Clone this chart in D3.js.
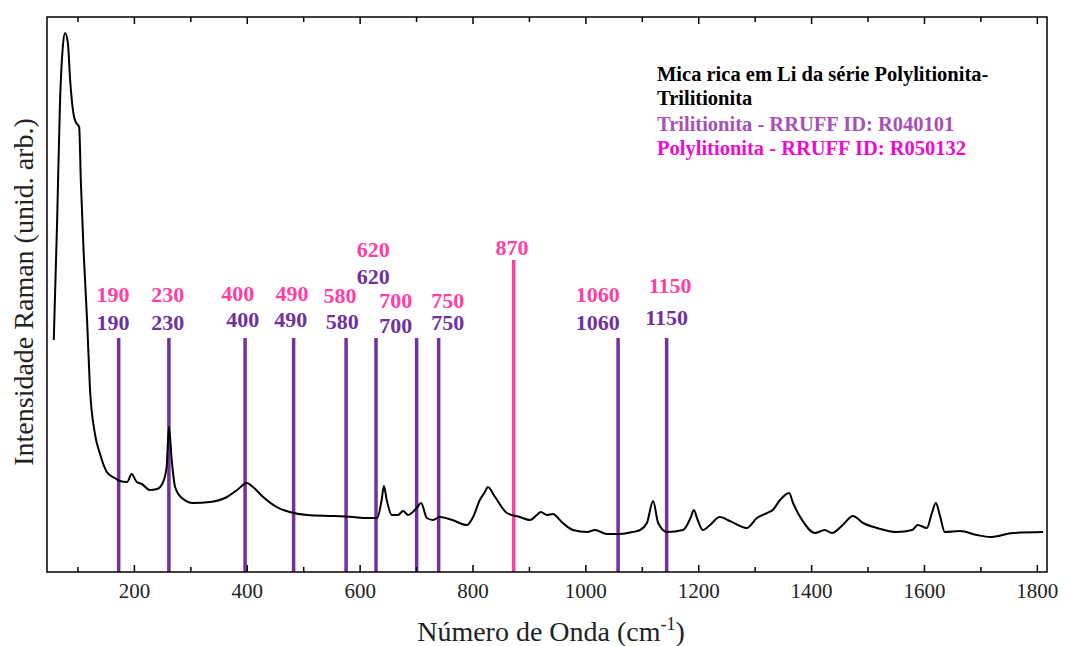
<!DOCTYPE html>
<html>
<head>
<meta charset="utf-8">
<script src="https://cdn.jsdelivr.net/npm/d3@7"></script>
<style>
  body { margin: 0; background: #fff; }
  svg text { font-family: "Liberation Serif", "Times New Roman", serif; }
</style>
</head>
<body>
<svg id="chart" width="1069" height="646"></svg>
<script>
// spectrum, wavenumber (cm-1) and intensity (arb. units)
var waveNum = [58,64,69,74,78,83,87,94,97,103,106,111,117,122,131,140,147,152,166,175,188,196,205,214,228,241,251,258,262,267,273,285,305,335,365,383,400,411,429,453,476,507,553,588,613,631,639,643,648,657,668,677,686,701,709,719,730,742,764,790,801,813,822,827,840,861,884,902,914,921,932,942,960,978,1003,1017,1038,1061,1084,1097,1109,1120,1129,1145,1173,1187,1192,1199,1208,1221,1238,1256,1274,1286,1304,1322,1332,1345,1361,1368,1384,1407,1424,1437,1456,1474,1492,1517,1552,1579,1589,1605,1614,1621,1628,1637,1664,1694,1717,1758,1811];
var intensity = [232,352,469,525,539,529,492,455,450,445,390,319,252,185,138,118,106,100,94,91,90,98,90,88,82,83,89,105,145,112,85,74,69,70,75,82,89,85,75,65,60,57,56,55,54,54,72,86,72,57,57,61,57,64,69,54,52,55,52,47,55,72,80,85,75,59,55,52,57,60,57,58,49,42,40,42,38,38,40,42,49,71,49,40,42,55,62,52,42,47,55,51,46,44,54,59,62,72,79,69,52,39,42,39,47,56,49,44,40,42,47,44,59,69,57,40,41,37,35,39,40];

// reference bands (drawn position in cm-1) and their top
var triliLines = [173, 262, 397, 483, 576, 629, 701, 740, 1058, 1144];
var triliTop = 234;
var polyLines = [873];
var polyTop = 312;

// labels: text, anchor wavenumber, baseline intensity
var polyLabels = ["190","230","400","490","580","620","700","750","870","1060","1150"];
var polyLabelX = [163,260,384,480,565,624,664,756,870,1022,1150];
var polyLabelY = [270,270,271,271,269,315,264,264,317,270,279];
var triliLabels = ["190","230","400","490","580","620","700","750","1060","1150"];
var triliLabelX = [163,260,393,478,569,624,664,756,1022,1144];
var triliLabelY = [242,242,245,245,243,288,239,242,242,247];

var legendLines = ["Mica rica em Li da série Polylitionita-", "Trilitionita", "Trilitionita - RRUFF ID: R040101", "Polylitionita - RRUFF ID: R050132"];
var legendColors = ["#000000", "#000000", "#a652b4", "#ee0ccc"];

var purple = "#7030a0";
var pink = "#ff3fa6";

var mLeft = 47, mRight = 1047, mTop = 17, mBottom = 572;
var svg = d3.select('#chart');

var xScale = d3.scaleLinear().domain([46, 1818]).range([mLeft, mRight]);
var yScale = d3.scaleLinear().domain([0, 555]).range([mBottom, mTop]);

var spectrum = waveNum.map(function(w, i) { return [w, intensity[i]]; });

// vertical reference lines
svg.append('g').selectAll('line')
  .data(triliLines).enter().append('line')
  .attr('x1', d => xScale(d)).attr('x2', d => xScale(d))
  .attr('y1', yScale(triliTop)).attr('y2', yScale(0))
  .attr('stroke', purple).attr('stroke-width', 3.5);
svg.append('g').selectAll('line')
  .data(polyLines).enter().append('line')
  .attr('x1', d => xScale(d)).attr('x2', d => xScale(d))
  .attr('y1', yScale(polyTop)).attr('y2', yScale(0))
  .attr('stroke', pink).attr('stroke-width', 3.5);

// spectrum
var line = d3.line()
  .x(d => xScale(d[0]))
  .y(d => yScale(d[1]))
  .curve(d3.curveMonotoneX);
svg.append('path')
  .datum(spectrum)
  .attr('d', line)
  .attr('fill', 'none')
  .attr('stroke', '#000')
  .attr('stroke-width', 2);

// frame
svg.append('rect')
  .attr('x', mLeft).attr('y', mTop)
  .attr('width', mRight - mLeft).attr('height', mBottom - mTop)
  .attr('fill', 'none').attr('stroke', '#000').attr('stroke-width', 1.5);

var majors = d3.range(200, 1801, 200);
var minors = d3.range(100, 1801, 100).filter(v => v % 200 != 0);

var xAxis = d3.axisBottom(xScale).tickValues(majors).tickFormat(d3.format('d'))
  .tickSizeInner(-7).tickSizeOuter(0).tickPadding(11);
var gx = svg.append('g').attr('transform', 'translate(0,' + mBottom + ')').call(xAxis);
gx.select('.domain').remove();
gx.selectAll('line').attr('stroke', '#000').attr('stroke-width', 1.5);
gx.selectAll('text').attr('font-size', 21).attr('fill', '#222')
  .style('font-family', '"Liberation Serif", serif');

var gxm = svg.append('g').attr('transform', 'translate(0,' + mBottom + ')')
  .call(d3.axisBottom(xScale).tickValues(minors).tickSizeInner(-5).tickSizeOuter(0).tickFormat(''));
gxm.select('.domain').remove();
gxm.selectAll('line').attr('stroke', '#000').attr('stroke-width', 1.5);

var gt = svg.append('g').attr('transform', 'translate(0,' + mTop + ')')
  .call(d3.axisTop(xScale).tickValues(majors).tickSizeInner(-7).tickSizeOuter(0).tickFormat(''));
gt.select('.domain').remove();
gt.selectAll('line').attr('stroke', '#000').attr('stroke-width', 1.5);
var gtm = svg.append('g').attr('transform', 'translate(0,' + mTop + ')')
  .call(d3.axisTop(xScale).tickValues(minors).tickSizeInner(-5).tickSizeOuter(0).tickFormat(''));
gtm.select('.domain').remove();
gtm.selectAll('line').attr('stroke', '#000').attr('stroke-width', 1.5);

// band labels
svg.append('g').selectAll('text')
  .data(polyLabels).enter().append('text')
  .attr('x', (d, i) => xScale(polyLabelX[i]))
  .attr('y', (d, i) => yScale(polyLabelY[i]))
  .attr('text-anchor', 'middle')
  .attr('font-size', 22).attr('font-weight', 'bold')
  .attr('fill', pink)
  .text(d => d);
svg.append('g').selectAll('text')
  .data(triliLabels).enter().append('text')
  .attr('x', (d, i) => xScale(triliLabelX[i]))
  .attr('y', (d, i) => yScale(triliLabelY[i]))
  .attr('text-anchor', 'middle')
  .attr('font-size', 22).attr('font-weight', 'bold')
  .attr('fill', purple)
  .text(d => d);

// legend
svg.append('g').selectAll('text')
  .data(legendLines).enter().append('text')
  .attr('x', 657)
  .attr('y', (d, i) => [81, 105, 131, 155][i])
  .attr('font-size', 20.5).attr('font-weight', 'bold')
  .attr('fill', (d, i) => legendColors[i])
  .text(d => d);

// axis titles
var xt = svg.append('text')
  .attr('x', 551).attr('y', 641)
  .attr('text-anchor', 'middle')
  .attr('font-size', 28).attr('fill', '#222');
xt.append('tspan').text('Número de Onda (cm');
xt.append('tspan').attr('dy', -11).attr('font-size', 18).text('-1');
xt.append('tspan').attr('dy', 11).text(')');

svg.append('text')
  .attr('transform', 'translate(33,292) rotate(-90)')
  .attr('text-anchor', 'middle')
  .attr('font-size', 28).attr('fill', '#222')
  .text('Intensidade Raman (unid. arb.)');
</script>
</body>
</html>
